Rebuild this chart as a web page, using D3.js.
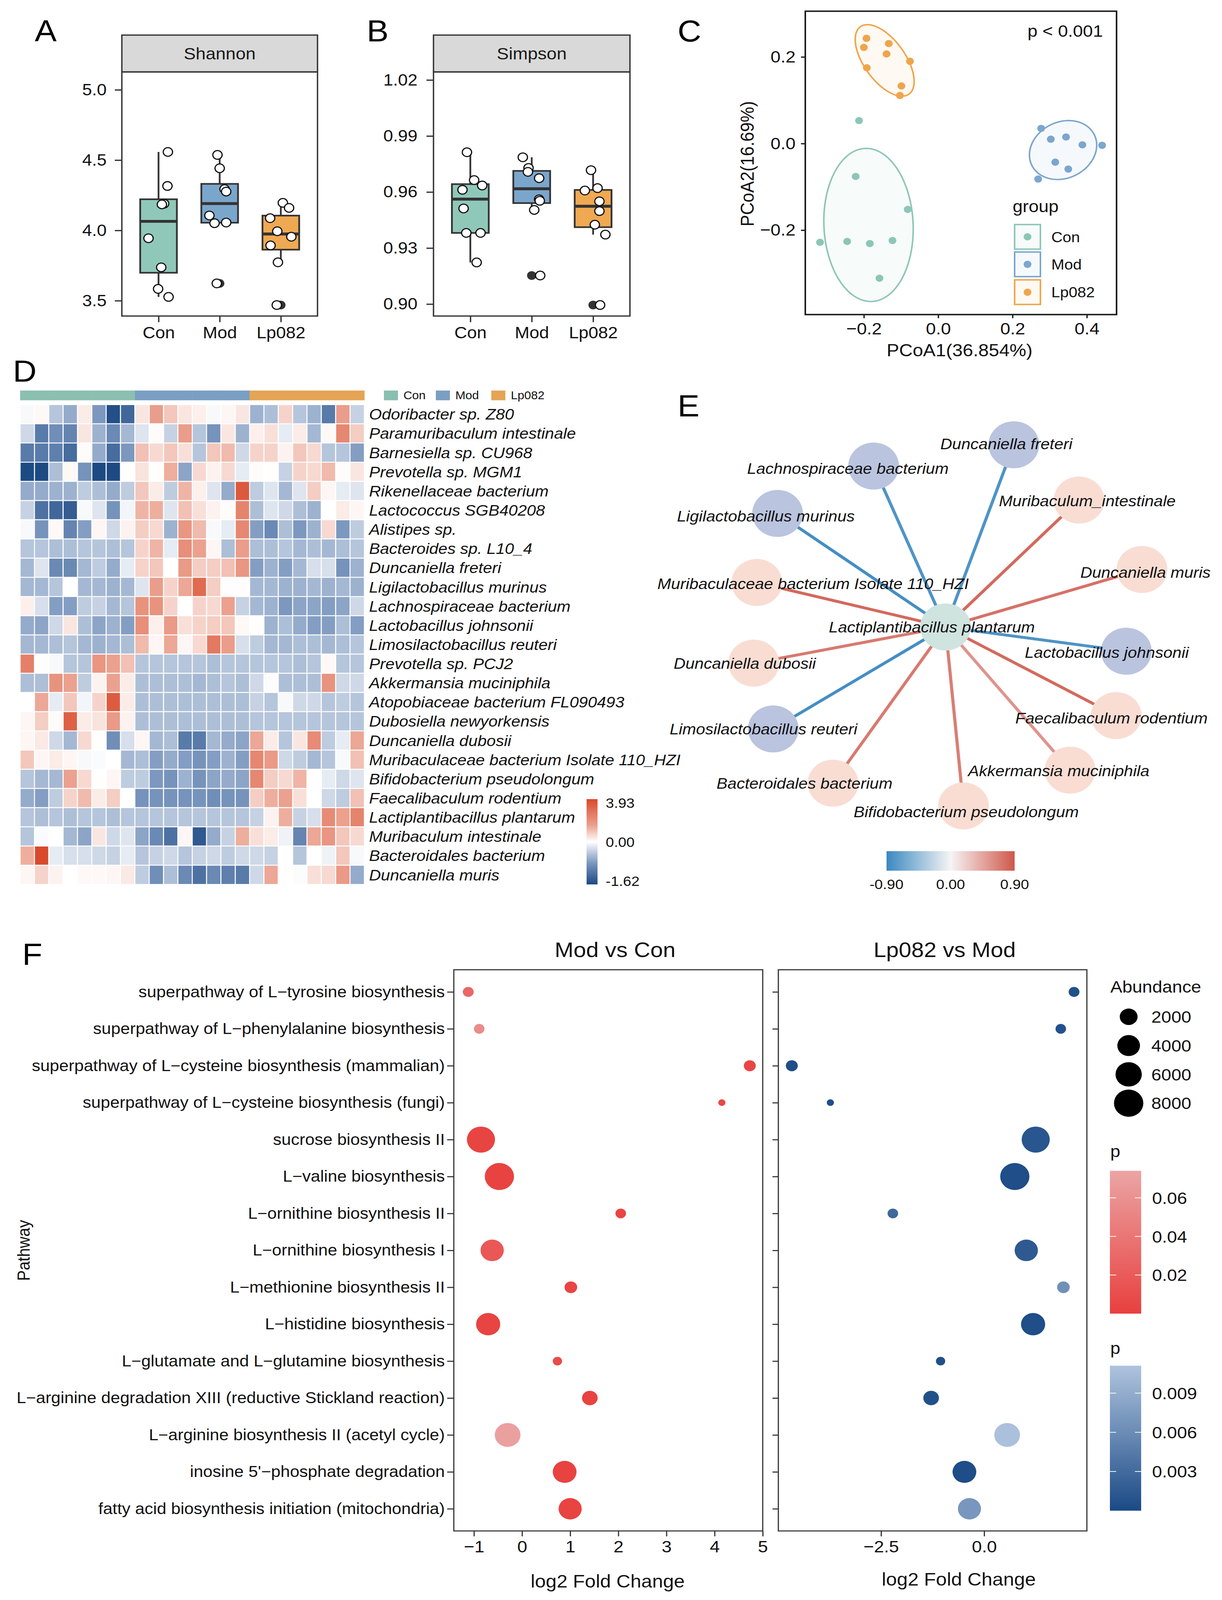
<!DOCTYPE html>
<html><head><meta charset="utf-8">
<script src="https://cdn.jsdelivr.net/npm/d3@7"></script>
<style>
html,body{margin:0;padding:0;background:#fff;overflow:hidden;}
svg{display:block;}
text{font-family:"Liberation Sans", Arial, Helvetica, sans-serif;}
</style></head><body>
<script>
// ------------------------- DATA -------------------------
const groups = ["Con", "Mod", "Lp082"];

// Panel A - Shannon (values and horizontal jitter in category units)
const shannonCon = [4.558, 4.316, 4.190, 4.185, 3.944, 3.737, 3.584, 3.527];
const shannonMod = [4.537, 4.442, 4.294, 4.276, 4.106, 4.051, 4.056, 3.623];
const shannonLp  = [4.196, 4.160, 4.087, 3.994, 3.955, 3.893, 3.773, 3.469];
const shannonJitCon = [0.153, 0.146, 0.091, 0.055, -0.164, 0.044, -0.007, 0.164];
const shannonJitMod = [-0.036, 0.0, 0.080, 0.106, -0.168, -0.084, 0.106, -0.047];
const shannonJitLp  = [0.033, 0.135, -0.175, -0.058, 0.172, -0.168, -0.047, -0.066];
const shannonTicks = [3.5, 4.0, 4.5, 5.0];

// Panel B - Simpson
const simpsonCon = [0.9813, 0.9664, 0.9635, 0.9612, 0.9512, 0.9381, 0.9381, 0.9223];
const simpsonMod = [0.9786, 0.9729, 0.9708, 0.9674, 0.9561, 0.9553, 0.9504, 0.9153];
const simpsonLp  = [0.9717, 0.9608, 0.9621, 0.9550, 0.9498, 0.9425, 0.9372, 0.8995];
const simpsonJitCon = [-0.055, 0.062, 0.193, -0.128, -0.110, -0.066, 0.166, 0.103];
const simpsonJitMod = [-0.145, -0.052, -0.062, 0.121, 0.121, 0.131, 0.041, 0.138];
const simpsonJitLp  = [-0.034, -0.134, 0.072, 0.103, 0.103, 0.028, 0.200, 0.114];
const simpsonTicks = [0.90, 0.93, 0.96, 0.99, 1.02];

// Panel C - PCoA
const pcoaConX = [-0.213, -0.222, -0.082, -0.318, -0.245, -0.184, -0.123, -0.158];
const pcoaConY = [0.053, -0.076, -0.152, -0.228, -0.226, -0.231, -0.224, -0.311];
const pcoaModX = [0.277, 0.303, 0.344, 0.388, 0.441, 0.315, 0.350, 0.269];
const pcoaModY = [0.035, 0.010, 0.015, -0.003, -0.004, -0.043, -0.059, -0.082];
const pcoaLpX  = [-0.193, -0.200, -0.133, -0.139, -0.076, -0.192, -0.099, -0.103];
const pcoaLpY  = [0.243, 0.222, 0.231, 0.207, 0.190, 0.175, 0.133, 0.111];
// ellipse parameters per group: centre x, centre y, semi-major, semi-minor, angle (deg)
const ellipseCX = [-0.1875, 0.336, -0.144];
const ellipseCY = [-0.188, -0.015, 0.192];
const ellipseA  = [0.177, 0.092, 0.102];
const ellipseB  = [0.120, 0.066, 0.052];
const ellipseAngle = [93.7, 15, -47];
const pcoaXTicks = [-0.2, 0.0, 0.2, 0.4];
const pcoaYTicks = [-0.2, 0.0, 0.2];

// Panel D - heatmap
const heatTaxa = ["Odoribacter sp. Z80","Paramuribaculum intestinale","Barnesiella sp. CU968","Prevotella sp. MGM1",
"Rikenellaceae bacterium","Lactococcus SGB40208","Alistipes sp.","Bacteroides sp. L10_4","Duncaniella freteri",
"Ligilactobacillus murinus","Lachnospiraceae bacterium","Lactobacillus johnsonii","Limosilactobacillus reuteri",
"Prevotella sp. PCJ2","Akkermansia muciniphila","Atopobiaceae bacterium FL090493","Dubosiella newyorkensis",
"Duncaniella dubosii","Muribaculaceae bacterium Isolate 110_HZI","Bifidobacterium pseudolongum",
"Faecalibaculum rodentium","Lactiplantibacillus plantarum","Muribaculum intestinale","Bacteroidales bacterium","Duncaniella muris"];
const heatSampleGroups = ["Con","Con","Con","Con","Con","Con","Con","Con","Mod","Mod","Mod","Mod","Mod","Mod","Mod","Mod","Lp082","Lp082","Lp082","Lp082","Lp082","Lp082","Lp082","Lp082"];
const heatValues = [
[-0.05,0.1,-0.45,-0.65,0.3,-0.8,-1.55,-1.3,0.4,1.6,0.9,0.4,0.25,-0.05,0.15,0.4,-0.6,-0.5,0.7,-0.45,-0.6,-1.1,1.6,-0.35],
[-0.3,-1.1,-0.9,-1.0,0.4,-0.6,-0.95,-0.55,-0.2,0.05,-0.35,1.6,-0.45,-0.85,0.4,-0.6,0.25,0.5,-0.15,0.3,-0.55,0.1,2.2,0.8],
[-1.1,-1.1,-1.05,-1.25,0.05,-0.65,-1.25,-0.8,1.0,0.6,0.9,0.5,-0.45,0.9,1.1,-0.3,0.7,0.7,0.2,0.9,0.6,-0.45,-0.45,-0.75],
[-1.6,-1.6,-0.5,0.1,-0.85,-1.6,-1.6,0.02,0.45,0.02,1.3,-0.7,0.6,0.2,0.6,-0.15,0.05,0.02,-0.35,0.7,0.6,1.1,0.05,0.4],
[-0.65,-0.65,-0.6,-0.6,-0.4,-0.5,-0.65,-0.4,0.9,0.3,-0.4,1.2,0.25,-0.2,-0.65,3.5,-0.4,-0.2,-0.55,-0.2,0.8,0.15,-0.15,-0.2],
[-0.35,-1.2,-1.3,-1.4,-0.05,-0.2,-0.85,-0.08,1.2,1.3,-0.2,1.0,0.5,0.2,0.05,2.3,-0.5,-0.2,-0.3,-0.5,-0.6,0.0,0.3,0.15],
[-0.05,-0.85,0.1,-1.0,-0.75,0.15,-0.3,0.2,0.8,0.6,-0.6,1.8,1.1,-0.05,-0.15,2.2,-0.75,-0.95,-0.5,-0.8,-0.6,0.6,-0.8,-0.4],
[-0.45,-0.45,-0.5,-0.5,-0.45,-0.45,-0.5,-0.45,0.7,1.2,-0.15,2.0,1.5,0.15,-0.5,1.6,-0.5,-0.5,-0.45,-0.55,-0.5,-0.55,-0.5,-0.45],
[-0.55,-0.2,-0.95,-0.95,-0.55,-0.4,-0.65,-0.15,0.7,0.9,0.0,1.7,0.8,0.8,1.0,1.8,-0.75,-0.6,-0.75,-0.55,-0.25,-0.25,-0.85,-0.6],
[-0.55,-0.55,-0.45,0.0,-0.55,-0.55,-0.6,-0.55,-0.2,1.6,0.7,1.4,3.0,0.8,0.03,0.03,-0.55,-0.55,-0.6,-0.6,-0.55,-0.6,-0.55,-0.6],
[0.25,-0.25,-0.75,-0.75,-0.4,-0.35,-0.55,-0.45,1.9,1.9,0.7,0.0,0.7,0.6,1.5,-0.35,-0.55,-0.6,-0.8,-0.7,-0.7,-0.75,-0.7,-0.3],
[-0.65,-0.7,-0.3,0.4,-0.5,-0.7,-0.6,-0.75,2.0,0.25,1.7,0.5,0.7,0.8,0.9,0.1,0.02,-0.6,-0.5,-0.65,-0.75,-0.75,-0.5,-0.75],
[-0.55,-0.55,-0.5,-0.45,-0.55,-0.6,-0.55,-0.5,1.1,0.15,1.4,0.15,0.6,2.6,1.6,-0.25,-0.4,-0.55,-0.55,-0.5,-0.5,-0.55,-0.5,-0.45],
[2.4,0.02,-0.05,-0.45,-0.45,1.8,1.5,1.0,-0.45,-0.45,-0.45,-0.45,-0.45,-0.5,-0.45,-0.45,-0.45,-0.45,-0.45,-0.5,-0.45,0.1,-0.45,-0.45],
[-0.5,-0.5,1.9,1.5,-0.4,0.2,1.5,0.3,-0.5,-0.5,-0.5,-0.5,-0.55,-0.5,-0.45,-0.5,-0.3,-0.02,-0.5,-0.5,-0.5,1.9,-0.3,-0.3],
[0.0,1.4,-0.15,0.9,-0.08,0.7,3.4,0.3,-0.5,-0.5,-0.5,-0.5,-0.5,-0.5,-0.5,-0.5,-0.35,-0.45,-0.05,-0.3,-0.3,-0.45,-0.4,-0.45],
[0.15,0.8,0.05,3.3,0.3,0.45,1.7,0.2,-0.5,-0.5,-0.5,-0.5,-0.5,-0.5,-0.5,-0.5,-0.45,-0.45,-0.45,-0.45,-0.45,-0.45,-0.45,-0.45],
[0.15,0.35,-0.3,-0.55,0.6,0.02,-0.9,-0.25,0.15,-0.55,-0.5,-1.1,-1.1,-0.55,-0.65,-0.7,1.4,0.3,-0.45,0.4,2.1,-0.4,-0.15,1.4],
[0.9,0.15,0.3,0.15,-0.05,-0.03,0.0,-0.55,-0.5,-0.75,-0.65,-0.75,-0.85,-0.75,-0.6,-0.75,2.2,1.7,-0.3,-0.4,-0.55,-0.45,-0.05,1.0],
[-0.45,-0.55,-0.55,1.5,0.6,0.02,0.15,-0.4,-0.4,-0.8,-0.85,-0.6,-0.85,-0.7,-0.65,-0.7,2.2,0.8,0.6,1.2,0.0,-0.15,-0.3,-0.2],
[-0.65,-0.75,-0.4,0.7,1.1,0.3,0.8,0.0,-0.85,-0.85,-0.85,-0.85,-0.85,-0.9,-0.85,-0.85,0.8,1.3,1.5,0.5,0.0,-0.3,-0.4,1.0],
[-0.45,-0.5,-0.45,-0.5,-0.45,-0.45,-0.5,-0.45,-0.45,-0.45,-0.45,-0.45,-0.45,-0.45,-0.45,-0.45,-0.35,0.2,1.3,-0.35,-0.25,2.1,1.5,2.3],
[-0.45,-0.03,0.0,-0.55,-0.7,0.4,-0.3,-0.2,-0.7,-0.95,-1.2,0.15,-1.45,-0.65,-0.35,1.3,0.5,0.3,-0.1,-1.0,1.4,1.8,0.9,0.6],
[1.3,3.9,-0.15,-0.25,-0.25,-0.3,-0.35,-0.15,-0.45,-0.35,-0.3,-0.45,-0.35,-0.3,-0.4,-0.3,-0.3,-0.35,0.0,-0.45,0.0,-0.1,0.9,-0.05],
[0.15,0.7,0.2,0.0,0.1,0.1,0.15,0.35,-0.4,-0.9,-0.5,-0.95,-1.2,-0.95,-1.05,-1.1,-0.3,1.4,0.02,-0.02,0.5,0.6,1.7,-0.65]
];
const heatMin = -1.62, heatMax = 3.93;
const heatLegendLabels = ["3.93", "0.00", "-1.62"];

// Panel E - correlation network with Lactiplantibacillus plantarum
const netHub = "Lactiplantibacillus plantarum";
const netNodes = ["Duncaniella freteri","Lachnospiraceae bacterium","Muribaculum_intestinale","Ligilactobacillus murinus",
"Duncaniella muris","Muribaculaceae bacterium Isolate 110_HZI","Lactobacillus johnsonii","Duncaniella dubosii",
"Faecalibaculum rodentium","Limosilactobacillus reuteri","Akkermansia muciniphila","Bacteroidales bacterium","Bifidobacterium pseudolongum"];
const netCorr = [-0.80, -0.80, 0.80, -0.85, 0.75, 0.80, -0.80, 0.70, 0.80, -0.85, 0.55, 0.70, 0.68];
// layout coordinates (hub at 0,0)
const netLayoutX = [1.75, -1.84, 3.42, -4.30, 5.03, -4.83, 4.63, -4.91, 4.37, -4.41, 3.19, -2.88, 0.46];
const netLayoutY = [-5.04, -4.45, -3.51, -3.14, -1.59, -1.23, 0.67, 1.00, 2.45, 2.82, 3.96, 4.32, 4.95];
const netLabelDX = [-0.19, -0.66, 0.21, -0.30, 0.09, 1.44, -0.50, -0.23, -0.12, -0.25, -0.29, -0.73, 0.07];
const netLabelDY = [-0.03, 0.06, 0.02, 0.07, 0.08, 0.03, 0.03, 0.0, 0.07, 0.0, 0.02, 0.0, 0.16];
const netHubLabelDX = -0.35;
const netLegendTicks = [-0.9, 0, 0.9];

// Panel F - pathway bubble plot
const pathways = ["superpathway of L\u2212tyrosine biosynthesis","superpathway of L\u2212phenylalanine biosynthesis",
"superpathway of L\u2212cysteine biosynthesis (mammalian)","superpathway of L\u2212cysteine biosynthesis (fungi)",
"sucrose biosynthesis II","L\u2212valine biosynthesis","L\u2212ornithine biosynthesis II","L\u2212ornithine biosynthesis I",
"L\u2212methionine biosynthesis II","L\u2212histidine biosynthesis","L\u2212glutamate and L\u2212glutamine biosynthesis",
"L\u2212arginine degradation XIII (reductive Stickland reaction)","L\u2212arginine biosynthesis II (acetyl cycle)",
"inosine 5'\u2212phosphate degradation","fatty acid biosynthesis initiation (mitochondria)"];
const abundance = [410, 380, 560, 200, 7150, 7900, 380, 4310, 670, 4770, 270, 1330, 5660, 4560, 4230];
const lfcModCon = [-1.118, -0.890, 4.731, 4.151, -0.854, -0.471, 2.050, -0.621, 1.014, -0.704, 0.735, 1.408, -0.300, 0.885, 0.999];
const pModCon   = [0.029, 0.056, 0.004, 0.005, 0.003, 0.002, 0.004, 0.018, 0.004, 0.003, 0.008, 0.002, 0.071, 0.002, 0.003];
const lfcLpMod  = [2.179, 1.857, -4.664, -3.729, 1.250, 0.743, -2.214, 1.021, 1.921, 1.186, -1.057, -1.286, 0.557, -0.479, -0.357];
const pLpMod    = [0.0006, 0.0007, 0.0004, 0.0004, 0.0011, 0.0004, 0.0028, 0.0015, 0.0064, 0.0004, 0.0005, 0.0006, 0.0108, 0.0003, 0.0071];
const abundanceLegend = [2000, 4000, 6000, 8000];
const lfcModConTicks = [-1, 0, 1, 2, 3, 4, 5];
const lfcLpModTicks = [-2.5, 0.0];
const pRedTicks = [0.02, 0.04, 0.06];
const pBlueTicks = [0.003, 0.006, 0.009];

// ------------------------- DRAWING -------------------------
const W = 3129, H = 4425;
const FONT = '"Liberation Sans", Arial, Helvetica, sans-serif';
const svg = d3.select("body").append("svg")
  .attr("width", "100vw").attr("height", "100vh")
  .attr("viewBox", `0 0 ${W} ${H}`).attr("preserveAspectRatio", "none");
svg.append("rect").attr("width", W).attr("height", H).attr("fill", "#fff");
const defs = svg.append("defs");

function label(t, x, y) {
  svg.append("text").attr("x", x).attr("y", y).attr("font-size", 84).attr("fill", "#000").text(t);
}
function styleAxis(g, fs, col, sw) {
  g.select(".domain").remove();
  g.selectAll("text").attr("font-size", fs).attr("font-family", FONT).attr("fill", "#111");
  g.selectAll("line").attr("stroke", col).attr("stroke-width", sw);
}

// ---------- Panels A & B ----------
const boxFill = ["#8FC8B9", "#7BA6CC", "#EFA952"];
function boxPanel(o) {
  const g = svg.append("g");
  const x = d3.scalePoint().domain(groups).range([o.x0, o.x1]).padding(0.6);
  const y = d3.scaleLinear().domain(o.domain).range([o.y1, o.y0]);
  const step = x.step();
  g.append("rect").attr("x", o.x0).attr("y", o.stripTop).attr("width", o.x1 - o.x0).attr("height", o.y0 - o.stripTop)
    .attr("fill", "#D9D9D9").attr("stroke", "#333").attr("stroke-width", 3.5);
  g.append("text").attr("x", (o.x0 + o.x1) / 2).attr("y", (o.y0 + o.stripTop) / 2).attr("dy", "0.36em")
    .attr("text-anchor", "middle").attr("font-size", 46).attr("fill", "#1a1a1a").text(o.title);
  groups.forEach((grp, i) => {
    const vals = o.series[i].slice().sort(d3.ascending);
    const q1 = d3.quantile(vals, 0.25), q2 = d3.quantile(vals, 0.5), q3 = d3.quantile(vals, 0.75);
    const iqr = q3 - q1, lo = q1 - 1.5 * iqr, hi = q3 + 1.5 * iqr;
    const inside = vals.filter(v => v >= lo && v <= hi);
    const wLo = d3.min(inside), wHi = d3.max(inside);
    const cx = x(grp), bw = step * 0.6;
    g.append("line").attr("x1", cx).attr("x2", cx).attr("y1", y(q3)).attr("y2", y(wHi)).attr("stroke", "#333").attr("stroke-width", 4.5);
    g.append("line").attr("x1", cx).attr("x2", cx).attr("y1", y(q1)).attr("y2", y(wLo)).attr("stroke", "#333").attr("stroke-width", 4.5);
    g.append("rect").attr("x", cx - bw / 2).attr("width", bw).attr("y", y(q3)).attr("height", y(q1) - y(q3))
      .attr("fill", boxFill[i]).attr("stroke", "#333").attr("stroke-width", 4.5);
    g.append("line").attr("x1", cx - bw / 2).attr("x2", cx + bw / 2).attr("y1", y(q2)).attr("y2", y(q2)).attr("stroke", "#333").attr("stroke-width", 8);
    vals.filter(v => v < lo || v > hi).forEach(v => {
      g.append("circle").attr("cx", cx).attr("cy", y(v)).attr("r", 12).attr("fill", "#333");
    });
    o.series[i].forEach((v, j) => {
      g.append("circle").attr("cx", cx + o.jitter[i][j] * step).attr("cy", y(v)).attr("r", 12)
        .attr("fill", "#fff").attr("stroke", "#111").attr("stroke-width", 3);
    });
  });
  g.append("rect").attr("x", o.x0).attr("y", o.y0).attr("width", o.x1 - o.x0).attr("height", o.y1 - o.y0)
    .attr("fill", "none").attr("stroke", "#333").attr("stroke-width", 3.5);
  const ay = g.append("g").attr("transform", `translate(${o.x0},0)`)
    .call(d3.axisLeft(y).tickValues(o.ticks).tickFormat(d3.format(o.fmt)).tickSize(18).tickPadding(o.pad));
  styleAxis(ay, 45, "#333", 3.5);
  const ax = g.append("g").attr("transform", `translate(0,${o.y1})`)
    .call(d3.axisBottom(x).tickSize(17).tickPadding(13));
  styleAxis(ax, 45, "#333", 3.5);
}
label("A", 89, 115);
boxPanel({x0: 312, x1: 813, y0: 199, y1: 874, stripTop: 97, title: "Shannon", domain: [3.391, 5.127],
  ticks: shannonTicks, fmt: ".1f", pad: 21, series: [shannonCon, shannonMod, shannonLp],
  jitter: [shannonJitCon, shannonJitMod, shannonJitLp]});
label("B", 939, 115);
boxPanel({x0: 1110, x1: 1613, y0: 199, y1: 874, stripTop: 97, title: "Simpson", domain: [0.8936, 1.0243],
  ticks: simpsonTicks, fmt: ".2f", pad: 23, series: [simpsonCon, simpsonMod, simpsonLp],
  jitter: [simpsonJitCon, simpsonJitMod, simpsonJitLp]});

// ---------- Panel C ----------
label("C", 1735, 115);
(function () {
  const x0 = 2062, x1 = 2859, y0 = 31, y1 = 870;
  const x = d3.scaleLinear().domain([-0.3576, 0.4799]).range([x0, x1]);
  const y = d3.scaleLinear().domain([-0.395, 0.3056]).range([y1, y0]);
  const col = ["#8CC6B6", "#7BA6CF", "#EFA54A"];
  const g = svg.append("g");
  const line = d3.line().x(d => x(d[0])).y(d => y(d[1])).curve(d3.curveLinearClosed);
  groups.forEach((grp, i) => {
    const th = ellipseAngle[i] * Math.PI / 180;
    const pts = d3.range(0, 120).map(k => {
      const t = k / 120 * 2 * Math.PI;
      const ex = ellipseA[i] * Math.cos(t), ey = ellipseB[i] * Math.sin(t);
      return [ellipseCX[i] + ex * Math.cos(th) - ey * Math.sin(th), ellipseCY[i] + ex * Math.sin(th) + ey * Math.cos(th)];
    });
    g.append("path").attr("d", line(pts)).attr("fill", col[i]).attr("fill-opacity", 0.07)
      .attr("stroke", col[i]).attr("stroke-width", 4);
  });
  const sets = [[pcoaConX, pcoaConY], [pcoaModX, pcoaModY], [pcoaLpX, pcoaLpY]];
  sets.forEach((s, i) => {
    s[0].forEach((vx, j) => {
      g.append("circle").attr("cx", x(vx)).attr("cy", y(s[1][j])).attr("r", 10).attr("fill", col[i]);
    });
  });
  g.append("rect").attr("x", x0).attr("y", y0).attr("width", x1 - x0).attr("height", y1 - y0)
    .attr("fill", "none").attr("stroke", "#1a1a1a").attr("stroke-width", 4);
  const ay = g.append("g").attr("transform", `translate(${x0},0)`)
    .call(d3.axisLeft(y).tickValues(pcoaYTicks).tickFormat(d3.format(".1f")).tickSize(11).tickPadding(14));
  styleAxis(ay, 46, "#1a1a1a", 3.5);
  const ax = g.append("g").attr("transform", `translate(0,${y1})`)
    .call(d3.axisBottom(x).tickValues(pcoaXTicks).tickFormat(d3.format(".1f")).tickSize(10).tickPadding(12));
  styleAxis(ax, 46, "#1a1a1a", 3.5);
  g.append("text").attr("x", 2457).attr("y", 985).attr("text-anchor", "middle").attr("font-size", 48).attr("fill", "#111").text("PCoA1(36.854%)");
  g.append("text").attr("transform", "translate(1930,453) rotate(-90)").attr("text-anchor", "middle").attr("font-size", 48).attr("fill", "#111").text("PCoA2(16.69%)");
  g.append("text").attr("x", 2824).attr("y", 102).attr("text-anchor", "end").attr("font-size", 46).attr("fill", "#111").text("p < 0.001");
  g.append("text").attr("x", 2593).attr("y", 587).attr("font-size", 46).attr("fill", "#111").text("group");
  const keyY = [619, 695, 772];
  groups.forEach((grp, i) => {
    g.append("rect").attr("x", 2598).attr("y", keyY[i] + 2).attr("width", 66).attr("height", 68)
      .attr("fill", col[i]).attr("fill-opacity", 0.07).attr("stroke", col[i]).attr("stroke-width", 4);
    g.append("circle").attr("cx", 2631).attr("cy", keyY[i] + 36).attr("r", 10).attr("fill", col[i]);
    g.append("text").attr("x", 2692).attr("y", keyY[i] + 36).attr("dy", "0.36em").attr("font-size", 40).attr("fill", "#111").text(grp);
  });
})();

// ---------- Panel D ----------
label("D", 33, 1055);
(function () {
  const x0 = 51.5, x1 = 933, y0 = 1119, y1 = 2446;
  const cols = d3.range(heatSampleGroups.length);
  const x = d3.scaleBand().domain(cols).range([x0, x1]);
  const y = d3.scaleBand().domain(heatTaxa).range([y0, y1]);
  const color = d3.scaleLinear().domain([heatMin, -0.8, 0, 1.5, heatMax])
    .range(["#1C4883", "#7C98BF", "#FFFFFF", "#EBA18E", "#D9492B"]).clamp(true);
  const annCol = {Con: "#8BBFB0", Mod: "#7A9FC2", Lp082: "#E5A456"};
  const g = svg.append("g");
  cols.forEach(c => {
    g.append("rect").attr("x", x(c)).attr("y", 1080).attr("width", x.bandwidth() + 0.5).attr("height", 27)
      .attr("fill", annCol[heatSampleGroups[c]]);
  });
  heatTaxa.forEach((t, r) => {
    heatValues[r].forEach((v, c) => {
      g.append("rect").attr("x", x(c)).attr("y", y(t)).attr("width", x.bandwidth()).attr("height", y.bandwidth())
        .attr("fill", color(v)).attr("stroke", "#fff").attr("stroke-width", 2.5);
    });
    g.append("text").attr("x", 945).attr("y", y(t) + y.bandwidth() / 2).attr("dy", "0.36em")
      .attr("font-size", 42).attr("font-style", "italic").attr("fill", "#111").text(t);
  });
  const lx = [983, 1116, 1258];
  groups.forEach((grp, i) => {
    g.append("rect").attr("x", lx[i]).attr("y", 1080).attr("width", 36).attr("height", 27).attr("fill", annCol[grp]);
    g.append("text").attr("x", lx[i] + 50).attr("y", 1104).attr("font-size", 31).attr("fill", "#111").text(grp);
  });
  const gid = "heatGrad";
  const grad = defs.append("linearGradient").attr("id", gid).attr("x1", 0).attr("y1", 1).attr("x2", 0).attr("y2", 0);
  d3.range(0, 1.0001, 0.05).forEach(t => {
    const v = t < 0.5 ? heatMin * (1 - 2 * t) : heatMax * (2 * t - 1);
    grad.append("stop").attr("offset", t).attr("stop-color", color(v));
  });
  g.append("rect").attr("x", 1502).attr("y", 2210).attr("width", 28).attr("height", 236).attr("fill", `url(#${gid})`);
  const ly = d3.scalePoint().domain(heatLegendLabels).range([2220, 2437]);
  heatLegendLabels.forEach(l => {
    g.append("text").attr("x", 1551).attr("y", ly(l)).attr("dy", "0.36em").attr("font-size", 38).attr("fill", "#111").text(l);
  });
})();

// ---------- Panel E ----------
label("E", 1735, 1152);
(function () {
  const x = d3.scaleLinear().domain([-6, 6]).range([2421 - 600, 2421 + 600]);
  const y = d3.scaleLinear().domain([-6, 6]).range([1734 - 600, 1734 + 600]);
  const ecol = d3.scaleLinear().domain([-0.9, 0, 0.9]).range(["#3A88C0", "#F5F5F5", "#D0574A"]);
  const g = svg.append("g");
  netNodes.forEach((n, i) => {
    g.append("line").attr("x1", x(0)).attr("y1", y(0)).attr("x2", x(netLayoutX[i])).attr("y2", y(netLayoutY[i]))
      .attr("stroke", ecol(netCorr[i])).attr("stroke-width", 8);
  });
  netNodes.forEach((n, i) => {
    g.append("circle").attr("cx", x(netLayoutX[i])).attr("cy", y(netLayoutY[i])).attr("r", 65)
      .attr("fill", netCorr[i] < 0 ? "#BAC4DF" : "#F9DDD3");
  });
  g.append("circle").attr("cx", x(0)).attr("cy", y(0)).attr("r", 65).attr("fill", "#CFE3DF");
  netNodes.forEach((n, i) => {
    g.append("text").attr("x", x(netLayoutX[i] + netLabelDX[i])).attr("y", y(netLayoutY[i] + netLabelDY[i]))
      .attr("dy", "0.36em").attr("text-anchor", "middle").attr("font-size", 42).attr("font-style", "italic")
      .attr("fill", "#111").text(n);
  });
  g.append("text").attr("x", x(netHubLabelDX)).attr("y", y(0)).attr("dy", "0.36em").attr("text-anchor", "middle")
    .attr("font-size", 42).attr("font-style", "italic").attr("fill", "#111").text(netHub);
  const lg = defs.append("linearGradient").attr("id", "netGrad").attr("x1", 0).attr("x2", 1).attr("y1", 0).attr("y2", 0);
  d3.range(0, 1.0001, 0.1).forEach(t => lg.append("stop").attr("offset", t).attr("stop-color", ecol(-0.9 + 1.8 * t)));
  const lx = d3.scaleLinear().domain([-0.9, 0.9]).range([2270, 2598]);
  g.append("rect").attr("x", 2270).attr("y", 2354).attr("width", 328).attr("height", 54).attr("fill", "url(#netGrad)");
  netLegendTicks.forEach(t => {
    g.append("text").attr("x", lx(t)).attr("y", 2445).attr("dy", "0.36em").attr("text-anchor", "middle")
      .attr("font-size", 38).attr("fill", "#111").text(t < 0 ? "-" + d3.format(".2f")(-t) : d3.format(".2f")(t));
  });
})();

// ---------- Panel F ----------
label("F", 57, 2668);
(function () {
  const y0 = 2682, y1 = 4234;
  const y = d3.scalePoint().domain(pathways).range([y0, y1]).padding(0.6);
  const xL = d3.scaleLinear().domain([-1.418, 5.0]).range([1162, 1953]);
  const xR = d3.scaleLinear().domain([-4.99, 2.49]).range([1993, 2783]);
  const aMin = d3.min(abundance), aMax = d3.max(abundance);
  const size = d3.scaleSqrt().domain([0, aMax - aMin]).range([9.2, 37.4]);
  const r = v => size(Math.max(0, v - aMin));
  const pRed = d3.scaleLinear().domain([0, 0.074]).range(["#E8403E", "#EBA4A4"]);
  const pBlue = d3.scaleLinear().domain([0, 0.0111]).range(["#1A4A85", "#AFC3DE"]);
  const g = svg.append("g");
  pathways.forEach((p, i) => {
    g.append("circle").attr("cx", xL(lfcModCon[i])).attr("cy", y(p)).attr("r", r(abundance[i])).attr("fill", pRed(pModCon[i]));
    g.append("circle").attr("cx", xR(lfcLpMod[i])).attr("cy", y(p)).attr("r", r(abundance[i])).attr("fill", pBlue(pLpMod[i]));
  });
  [[1162, 1953], [1993, 2783]].forEach(e => {
    g.append("rect").attr("x", e[0]).attr("y", y0).attr("width", e[1] - e[0]).attr("height", y1 - y0)
      .attr("fill", "none").attr("stroke", "#333").attr("stroke-width", 3);
  });
  const ayL = g.append("g").attr("transform", "translate(1162,0)")
    .call(d3.axisLeft(y).tickSize(17).tickPadding(6));
  styleAxis(ayL, 43.5, "#333", 3);
  const ayR = g.append("g").attr("transform", "translate(1993,0)")
    .call(d3.axisLeft(y).tickSize(15).tickFormat(""));
  styleAxis(ayR, 43.5, "#333", 3);
  const axL = g.append("g").attr("transform", `translate(0,${y1})`)
    .call(d3.axisBottom(xL).tickValues(lfcModConTicks).tickFormat(d3.format("d")).tickSize(15).tickPadding(12));
  styleAxis(axL, 46, "#333", 3);
  const axR = g.append("g").attr("transform", `translate(0,${y1})`)
    .call(d3.axisBottom(xR).tickValues(lfcLpModTicks).tickFormat(d3.format(".1f")).tickSize(15).tickPadding(12));
  styleAxis(axR, 46, "#333", 3);
  g.append("text").attr("x", 1575).attr("y", 2647).attr("text-anchor", "middle").attr("font-size", 58).attr("fill", "#111").text("Mod vs Con");
  g.append("text").attr("x", 2419).attr("y", 2647).attr("text-anchor", "middle").attr("font-size", 58).attr("fill", "#111").text("Lp082 vs Mod");
  g.append("text").attr("x", 1556).attr("y", 4390).attr("text-anchor", "middle").attr("font-size", 50).attr("fill", "#111").text("log2 Fold Change");
  g.append("text").attr("x", 2455).attr("y", 4385).attr("text-anchor", "middle").attr("font-size", 50).attr("fill", "#111").text("log2 Fold Change");
  g.append("text").attr("transform", "translate(76,3458) rotate(-90)").attr("text-anchor", "middle").attr("font-size", 44).attr("fill", "#111").text("Pathway");
  g.append("text").attr("x", 2843).attr("y", 2745).attr("font-size", 46).attr("fill", "#111").text("Abundance");
  const ky = d3.scalePoint().domain(abundanceLegend).range([2812, 3051]);
  abundanceLegend.forEach(v => {
    g.append("circle").attr("cx", 2890).attr("cy", ky(v)).attr("r", r(v)).attr("fill", "#000");
    g.append("text").attr("x", 2948).attr("y", ky(v)).attr("dy", "0.36em").attr("font-size", 46).attr("fill", "#111").text(v);
  });
  function colorBar(id, scale, top, bottom, ticks, fmt, titleY) {
    const gr = defs.append("linearGradient").attr("id", id).attr("x1", 0).attr("y1", 1).attr("x2", 0).attr("y2", 0);
    const dom = scale.domain();
    d3.range(0, 1.0001, 0.1).forEach(t => gr.append("stop").attr("offset", t).attr("stop-color", scale(dom[0] + (dom[1] - dom[0]) * t)));
    const yy = d3.scaleLinear().domain(dom).range([bottom, top]);
    g.append("text").attr("x", 2843).attr("y", titleY).attr("font-size", 46).attr("fill", "#111").text("p");
    g.append("rect").attr("x", 2842).attr("y", top).attr("width", 80).attr("height", bottom - top).attr("fill", `url(#${id})`);
    ticks.forEach(t => {
      g.append("line").attr("x1", 2842).attr("x2", 2858).attr("y1", yy(t)).attr("y2", yy(t)).attr("stroke", "#fff").attr("stroke-width", 2);
      g.append("line").attr("x1", 2906).attr("x2", 2922).attr("y1", yy(t)).attr("y2", yy(t)).attr("stroke", "#fff").attr("stroke-width", 2);
      g.append("text").attr("x", 2950).attr("y", yy(t)).attr("dy", "0.36em").attr("font-size", 46).attr("fill", "#111").text(d3.format(fmt)(t));
    });
  }
  colorBar("pRedGrad", pRed, 3238, 3633, pRedTicks, ".2f", 3200);
  colorBar("pBlueGrad", pBlue, 3777, 4178, pBlueTicks, ".3f", 3744);
})();
</script>
</body></html>
